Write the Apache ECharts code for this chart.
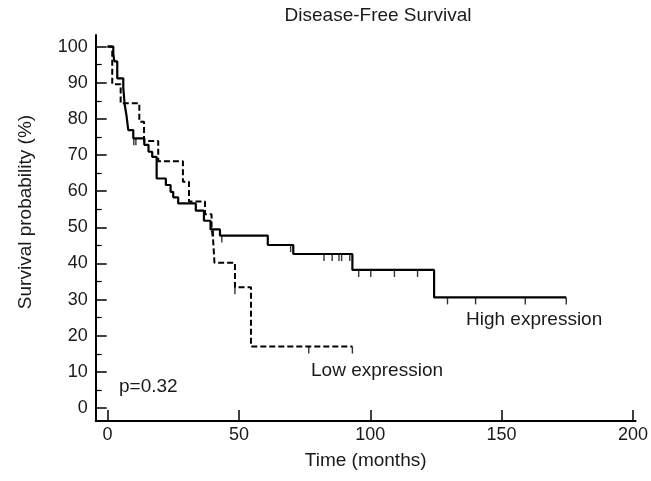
<!DOCTYPE html>
<html>
<head>
<meta charset="utf-8">
<script src="https://cdn.jsdelivr.net/npm/echarts@6/dist/echarts.min.js"></script>
<style>
  html, body { margin: 0; padding: 0; background: #fff; }
  #chart { width: 651px; height: 481px; }
</style>
</head>
<body>
<div id="chart"></div>
<script>
// Kaplan-Meier 曲线数据
var highTime = [0, 2.2, 2.6, 3.7, 6.0, 6.5, 7.2, 7.9, 9.8, 14.0, 15.6, 17.0, 18.7, 22.2, 24.0, 25.0, 26.9, 33.6, 36.7, 39.2, 42.8, 61.0, 70.7, 93.2, 124.3, 174.6];
var highSurv = [100, 98.0, 95.9, 91.2, 88.6, 84.1, 81.0, 76.9, 74.6, 72.8, 70.9, 69.5, 63.5, 61.7, 59.8, 58.3, 56.6, 54.6, 51.8, 49.4, 47.7, 45.1, 42.6, 38.2, 30.6, 30.6];
var highCensor = [10.0, 10.8, 40.3, 43.5, 69.7, 82.4, 85.5, 88.1, 89.1, 92.2, 95.6, 100.2, 109.2, 118.0, 129.4, 140.1, 159.0, 174.6];

var lowTime = [0, 1.8, 5.0, 12.1, 13.9, 19.3, 28.7, 31.0, 37.1, 39.6, 40.2, 40.7, 48.5, 54.6, 93.2];
var lowSurv = [100, 89.6, 84.3, 79.2, 73.9, 68.3, 62.6, 57.1, 53.6, 50.0, 46.4, 40.2, 33.4, 17.0, 17.0];
var lowCensor = [48.5, 76.6, 93.2];

var xTicks = [0, 50, 100, 150, 200];
var yTicks = [0, 10, 20, 30, 40, 50, 60, 70, 80, 90, 100];
var yMinorTicks = [5, 15, 25, 35, 45, 55, 65, 75, 85, 95];

var FONT = 'Liberation Sans, Arial, sans-serif';
var TXT = '#1a1a1a';

// 求某时刻的生存率（阶梯函数）
function survAt(times, surv, t) {
    var s = surv[0];
    for (var i = 0; i < times.length; i++) {
        if (times[i] <= t) s = surv[i];
    }
    return s;
}

function toPairs(times, surv) {
    return times.map(function (t, i) { return [t, surv[i]]; });
}

function censorPairs(cens, times, surv) {
    return cens.map(function (t) { return [t, survAt(times, surv, t)]; });
}

var myChart = echarts.init(document.getElementById('chart'), null, { renderer: 'canvas' });

var option = {
    animation: false,
    backgroundColor: '#fff',
    title: {
        text: 'Disease-Free Survival',
        left: 378,
        top: 6,
        padding: 0,
        textAlign: 'center',
        textStyle: { fontFamily: FONT, fontSize: 19, fontWeight: 'normal', color: TXT }
    },
    grid: { left: 95.7, right: 14.9, top: 35, bottom: 60 },
    xAxis: {
        type: 'value',
        min: -4.5,
        max: 201,
        name: 'Time (months)',
        nameLocation: 'middle',
        nameGap: 30,
        nameTextStyle: { fontFamily: FONT, fontSize: 19, color: TXT },
        axisLine: { onZero: false, lineStyle: { color: '#000', width: 2 } },
        axisTick: { inside: true, length: 11, customValues: xTicks, lineStyle: { color: '#000', width: 1.5 } },
        axisLabel: { customValues: xTicks, fontFamily: FONT, fontSize: 18, color: TXT, margin: 5 },
        splitLine: { show: false }
    },
    yAxis: [{
        type: 'value',
        min: -3.6,
        max: 103.2,
        axisLine: { show: true, onZero: false, lineStyle: { color: '#000', width: 2 } },
        axisTick: { show: true, inside: true, length: 11, customValues: yTicks, lineStyle: { color: '#000', width: 1.5 } },
        axisLabel: { customValues: yTicks, fontFamily: FONT, fontSize: 18, color: TXT, margin: 8 },
        splitLine: { show: false }
    }, {
        // 次刻度
        type: 'value',
        position: 'left',
        min: -3.6,
        max: 103.2,
        axisLine: { show: false, onZero: false },
        axisTick: { show: true, inside: true, length: 6, customValues: yMinorTicks, lineStyle: { color: '#000', width: 1.2 } },
        axisLabel: { show: false },
        splitLine: { show: false }
    }],
    graphic: [
        {
            type: 'text', x: 26, y: 212, rotation: Math.PI / 2,
            style: { text: 'Survival probability (%)', fontFamily: FONT, fontSize: 19, fill: TXT, align: 'center', verticalAlign: 'middle' }
        },
        {
            type: 'text', x: 119, y: 387,
            style: { text: 'p=0.32', fontFamily: FONT, fontSize: 19, fill: TXT, verticalAlign: 'middle' }
        },
        {
            type: 'text', x: 466, y: 320,
            style: { text: 'High expression', fontFamily: FONT, fontSize: 19, fill: TXT, verticalAlign: 'middle' }
        },
        {
            type: 'text', x: 311, y: 370.5,
            style: { text: 'Low expression', fontFamily: FONT, fontSize: 19, fill: TXT, verticalAlign: 'middle' }
        }
    ],
    series: [
        {
            name: 'High expression',
            type: 'line',
            step: 'end',
            data: toPairs(highTime, highSurv),
            showSymbol: false,
            lineStyle: { color: '#000', width: 2.2 },
            z: 3
        },
        {
            name: 'Low expression',
            type: 'line',
            step: 'end',
            data: toPairs(lowTime, lowSurv),
            showSymbol: false,
            lineStyle: { color: '#000', width: 2, type: [6, 3] },
            z: 2
        },
        {
            name: 'High censor',
            type: 'scatter',
            data: censorPairs(highCensor, highTime, highSurv),
            symbol: 'rect',
            symbolSize: [1.4, 7],
            symbolOffset: [0, 3.5],
            itemStyle: { color: '#000' },
            silent: true
        },
        {
            name: 'Low censor',
            type: 'scatter',
            data: censorPairs(lowCensor, lowTime, lowSurv),
            symbol: 'rect',
            symbolSize: [1.4, 7],
            symbolOffset: [0, 3.5],
            itemStyle: { color: '#000' },
            silent: true
        }
    ]
};

myChart.setOption(option);
</script>
</body>
</html>
